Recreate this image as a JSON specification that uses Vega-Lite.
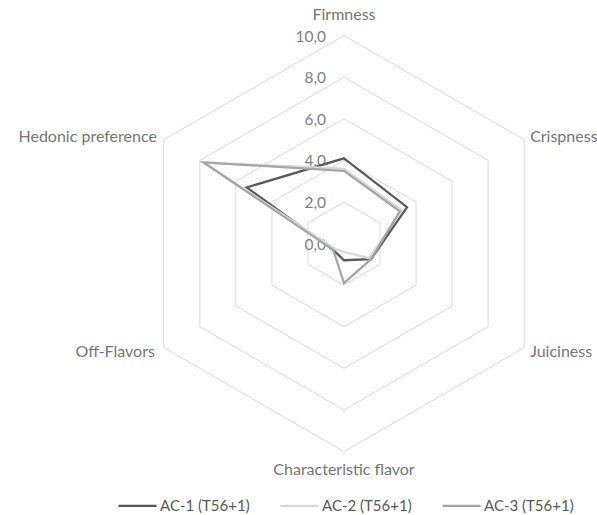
{
  "$schema": "https://vega.github.io/schema/vega-lite/v6.json",
  "width": 597,
  "height": 515,
  "autosize": "none",
  "padding": 0,
  "config": {
    "view": {"stroke": null},
    "font": "Lato",
    "text": {"fontSize": 16, "color": "#767676", "baseline": "middle"},
    "locale": {"number": {"decimal": ",", "thousands": ".", "grouping": [3], "currency": ["", ""]}}
  },
  "datasets": {
    "series": [
      {"series": "AC-1 (T56+1)", "k": 0, "value": 4.1},
      {"series": "AC-1 (T56+1)", "k": 1, "value": 3.5},
      {"series": "AC-1 (T56+1)", "k": 2, "value": 1.5},
      {"series": "AC-1 (T56+1)", "k": 3, "value": 0.8},
      {"series": "AC-1 (T56+1)", "k": 4, "value": 0.6},
      {"series": "AC-1 (T56+1)", "k": 5, "value": 5.4},
      {"series": "AC-2 (T56+1)", "k": 0, "value": 3.6},
      {"series": "AC-2 (T56+1)", "k": 1, "value": 3.2},
      {"series": "AC-2 (T56+1)", "k": 2, "value": 1.4},
      {"series": "AC-2 (T56+1)", "k": 3, "value": 0.4},
      {"series": "AC-2 (T56+1)", "k": 4, "value": 0.5},
      {"series": "AC-2 (T56+1)", "k": 5, "value": 7.8},
      {"series": "AC-3 (T56+1)", "k": 0, "value": 3.5},
      {"series": "AC-3 (T56+1)", "k": 1, "value": 3.1},
      {"series": "AC-3 (T56+1)", "k": 2, "value": 1.5},
      {"series": "AC-3 (T56+1)", "k": 3, "value": 1.9},
      {"series": "AC-3 (T56+1)", "k": 4, "value": 0.6},
      {"series": "AC-3 (T56+1)", "k": 5, "value": 7.8}
    ],
    "grid": [
      {"level": 0, "k": [0, 1, 2, 3, 4, 5]},
      {"level": 2, "k": [0, 1, 2, 3, 4, 5]},
      {"level": 4, "k": [0, 1, 2, 3, 4, 5]},
      {"level": 6, "k": [0, 1, 2, 3, 4, 5]},
      {"level": 8, "k": [0, 1, 2, 3, 4, 5]},
      {"level": 10, "k": [0, 1, 2, 3, 4, 5]}
    ],
    "cats": [
      {"k": 0, "name": "Firmness", "r": 10},
      {"k": 1, "name": "Crispness", "r": 10},
      {"k": 2, "name": "Juiciness", "r": 10},
      {"k": 3, "name": "Characteristic flavor", "r": 10},
      {"k": 4, "name": "Off-Flavors", "r": 10},
      {"k": 5, "name": "Hedonic preference", "r": 10}
    ]
  },
  "encoding": {
    "x": {"field": "px", "type": "quantitative", "scale": {"domain": [-16.538, 12.163], "nice": false, "zero": false}, "axis": null},
    "y": {"field": "py", "type": "quantitative", "scale": {"domain": [-13.048, 11.712], "nice": false, "zero": false}, "axis": null}
  },
  "layer": [
    {
      "data": {"name": "grid"},
      "transform": [
        {"filter": "datum.level > 0"},
        {"flatten": ["k"]},
        {"calculate": "datum.level * sin(datum.k * PI / 3)", "as": "px"},
        {"calculate": "datum.level * cos(datum.k * PI / 3)", "as": "py"}
      ],
      "mark": {"type": "line", "interpolate": "linear-closed", "color": "#d9d9d9", "strokeWidth": 1},
      "encoding": {
        "detail": {"field": "level", "type": "nominal"},
        "order": {"field": "k", "type": "quantitative"}
      }
    },
    {
      "data": {"name": "grid"},
      "transform": [
        {"calculate": "0", "as": "px"},
        {"calculate": "datum.level", "as": "py"}
      ],
      "mark": {"type": "text", "align": "right", "dx": -18, "dy": 1, "fontSize": 15.5, "color": "#7f7f7f"},
      "encoding": {
        "text": {"field": "level", "type": "quantitative", "format": ".1f"}
      }
    },
    {
      "data": {"name": "series"},
      "transform": [
        {"calculate": "datum.value * sin(datum.k * PI / 3)", "as": "px"},
        {"calculate": "datum.value * cos(datum.k * PI / 3)", "as": "py"}
      ],
      "mark": {"type": "line", "interpolate": "linear-closed", "strokeWidth": 2.25},
      "encoding": {
        "color": {
          "field": "series", "type": "nominal",
          "scale": {"domain": ["AC-1 (T56+1)", "AC-2 (T56+1)", "AC-3 (T56+1)"], "range": ["#595959", "#d9d9d9", "#a5a5a5"]},
          "legend": {
            "title": null, "orient": "none", "direction": "horizontal",
            "legendX": 117, "legendY": 485,
            "symbolType": "stroke", "symbolSize": 1444, "symbolStrokeWidth": 2.25,
            "labelFont": "Lato", "labelFontSize": 15, "labelColor": "#595959", "labelOffset": 2, "columnPadding": 26
          }
        },
        "order": {"field": "k", "type": "quantitative"}
      }
    },
    {
      "data": {"name": "cats"},
      "transform": [
        {"filter": "datum.k == 0"},
        {"calculate": "datum.r * sin(datum.k * PI / 3)", "as": "px"},
        {"calculate": "datum.r * cos(datum.k * PI / 3)", "as": "py"}
      ],
      "mark": {"type": "text", "align": "center", "dy": -21},
      "encoding": {"text": {"field": "name"}}
    },
    {
      "data": {"name": "cats"},
      "transform": [
        {"filter": "datum.k == 3"},
        {"calculate": "datum.r * sin(datum.k * PI / 3)", "as": "px"},
        {"calculate": "datum.r * cos(datum.k * PI / 3)", "as": "py"}
      ],
      "mark": {"type": "text", "align": "center", "dy": 18},
      "encoding": {"text": {"field": "name"}}
    },
    {
      "data": {"name": "cats"},
      "transform": [
        {"filter": "datum.k == 1"},
        {"calculate": "datum.r * sin(datum.k * PI / 3)", "as": "px"},
        {"calculate": "datum.r * cos(datum.k * PI / 3)", "as": "py"}
      ],
      "mark": {"type": "text", "align": "left", "dx": 6, "dy": -3},
      "encoding": {"text": {"field": "name"}}
    },
    {
      "data": {"name": "cats"},
      "transform": [
        {"filter": "datum.k == 2"},
        {"calculate": "datum.r * sin(datum.k * PI / 3)", "as": "px"},
        {"calculate": "datum.r * cos(datum.k * PI / 3)", "as": "py"}
      ],
      "mark": {"type": "text", "align": "left", "dx": 6, "dy": 4},
      "encoding": {"text": {"field": "name"}}
    },
    {
      "data": {"name": "cats"},
      "transform": [
        {"filter": "datum.k == 4"},
        {"calculate": "datum.r * sin(datum.k * PI / 3)", "as": "px"},
        {"calculate": "datum.r * cos(datum.k * PI / 3)", "as": "py"}
      ],
      "mark": {"type": "text", "align": "right", "dx": -9, "dy": 4},
      "encoding": {"text": {"field": "name"}}
    },
    {
      "data": {"name": "cats"},
      "transform": [
        {"filter": "datum.k == 5"},
        {"calculate": "datum.r * sin(datum.k * PI / 3)", "as": "px"},
        {"calculate": "datum.r * cos(datum.k * PI / 3)", "as": "py"}
      ],
      "mark": {"type": "text", "align": "right", "dx": -7, "dy": -3},
      "encoding": {"text": {"field": "name"}}
    }
  ]
}
